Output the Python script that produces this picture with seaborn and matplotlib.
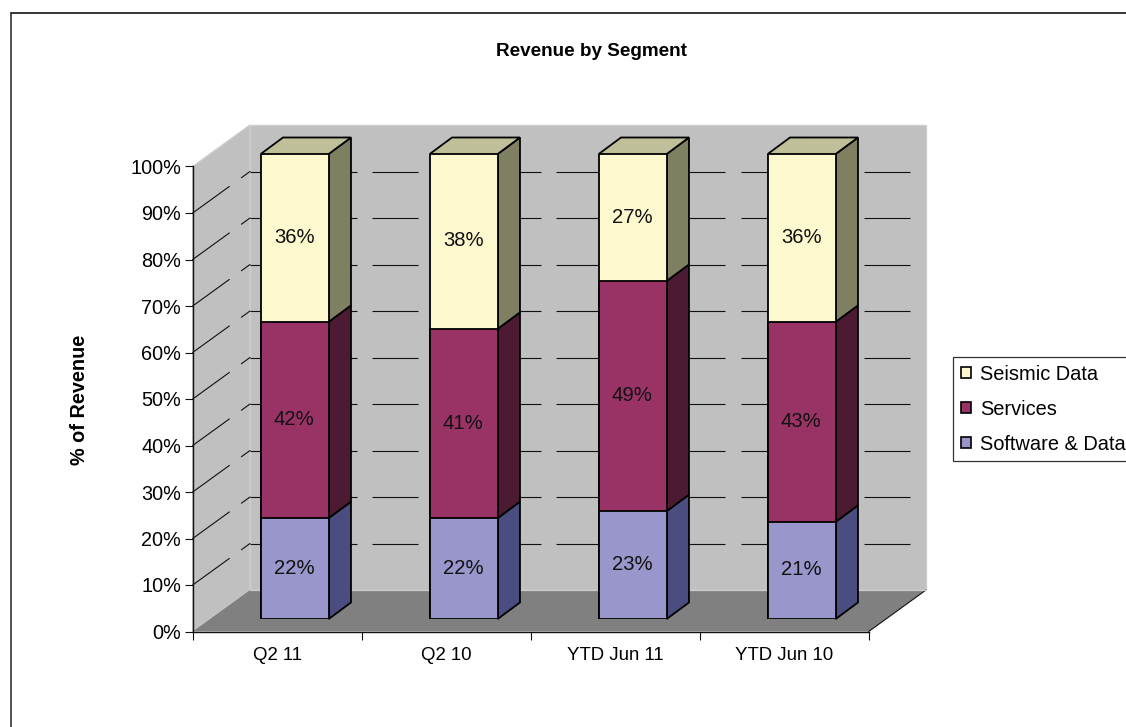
import numpy as np
import pandas as pd
import matplotlib
matplotlib.use("Agg")
import matplotlib.pyplot as plt
from matplotlib.patches import Patch, Polygon
import seaborn as sns

categories = ["Q2 11", "Q2 10", "YTD Jun 11", "YTD Jun 10"]
software = [21.7, 21.7, 23.2, 20.9]
services = [42.2, 40.7, 49.5, 43.0]
seismic = [36.1, 37.6, 27.3, 36.1]
software_labels = ["22%", "22%", "23%", "21%"]
services_labels = ["42%", "41%", "49%", "43%"]
seismic_labels = ["36%", "38%", "27%", "36%"]
y_ticks = [0, 10, 20, 30, 40, 50, 60, 70, 80, 90, 100]

W, H = 1126, 727
sns.set_theme(style="white")
plt.rcParams["font.family"] = ["Liberation Sans", "DejaVu Sans"]
FS_TICK, FS_CAT, FS_BAR, FS_LEG, FS_BOLD = 14.3, 13.4, 14.6, 14.4, 13.6
INK = "#111111"

fig = plt.figure(figsize=(W / 100, H / 100), dpi=100, facecolor="white")


def px_axes(x0, y_top, x1, y_bot, **kw):
    return fig.add_axes([x0 / W, 1 - y_bot / H, (x1 - x0) / W, (y_bot - y_top) / H], **kw)


# pixel canvas for the chart furniture
bg = px_axes(0, 0, W, H, zorder=0)
bg.set_xlim(0, W)
bg.set_ylim(H, 0)
bg.axis("off")

FX0, FX1, FY0, FY1 = 192.7, 868.7, 631.5, 166.5   # front plane
DX, DY = 57.3, -41.5                               # wall depth
WALL, FLOOR, EDGE = "#C0C0C0", "#808080", "#CDCDCD"

bg.add_patch(Polygon([(FX0 + DX, FY1 + DY), (FX1 + DX, FY1 + DY), (FX1 + DX, FY0 + DY), (FX0 + DX, FY0 + DY)],
                     fc=WALL, ec=EDGE, lw=1))
bg.add_patch(Polygon([(FX0, FY1), (FX0 + DX, FY1 + DY), (FX0 + DX, FY0 + DY), (FX0, FY0)],
                     fc=WALL, ec=EDGE, lw=1))
bg.add_patch(Polygon([(FX0, FY0), (FX1, FY0), (FX1 + DX, FY0 + DY), (FX0 + DX, FY0 + DY)],
                     fc=FLOOR, ec="none"))
bg.plot([FX1, FX1 + DX], [FY0, FY0 + DY], color=INK, lw=0.8)
bg.plot([FX0 + DX, FX1 + DX], [FY0 + DY, FY0 + DY], color=EDGE, lw=0.9)

# gridlines: back wall and side wall, with the gaps of the source rendering
back_spans = [(250, 357), (372, 418), (430, 541), (556, 725), (741, 857), (864, 910)]
for t in y_ticks[1:-1]:
    yf = FY0 + (FY1 - FY0) * t / 100
    for a, b in back_spans:
        bg.plot([a, b], [yf + DY, yf + DY], color=INK, lw=0.8, solid_capstyle="butt")
    for f0, f1 in [(0, 0.64), (0.85, 1.0)]:
        bg.plot([FX0 + DX * f0, FX0 + DX * f1], [yf + DY * f0, yf + DY * f1], color=INK, lw=0.8)

# chart frame: only the top and left edges show
bg.plot([10.5, W], [12.5, 12.5], color="black", lw=1.1)
bg.plot([10.5, 10.5], [12.5, H], color="#222222", lw=1.1)

# front axis carrying ticks and labels
axf = px_axes(FX0, FY1, FX1, FY0, zorder=1)
axf.patch.set_alpha(0)
axf.set_xlim(-0.5, 3.5)
axf.set_ylim(0, 100)
axf.set_yticks(y_ticks)
axf.set_yticklabels([f"{t}%" for t in y_ticks], fontsize=FS_TICK, color="black")
axf.set_xticks(np.arange(-0.5, 4, 1))
axf.set_xticklabels([])
axf.set_xticks(range(4), categories, minor=True, fontsize=FS_CAT, color="black")
axf.tick_params(axis="y", length=6, width=0.8, color=INK, pad=2.5, left=True)
axf.tick_params(axis="x", which="major", length=6, width=0.8, color=INK, bottom=True)
axf.tick_params(axis="x", which="minor", length=0, pad=11)
for s in ["top", "right"]:
    axf.spines[s].set_visible(False)
for s in ["left", "bottom"]:
    axf.spines[s].set_color(INK)
    axf.spines[s].set_linewidth(1.0)
axf.set_ylabel("% of Revenue", fontsize=14.3, fontweight="bold", color="black", labelpad=0)
axf.yaxis.set_label_coords((89 - FX0) / (FX1 - FX0), (FY0 - 400) / (FY0 - FY1))
fig.text(591.5 / W, 1 - 52 / H, "Revenue by Segment", fontsize=FS_BOLD, fontweight="bold", color="black",
         ha="center", va="center")

# bars axis: plane through the front faces of the bars
ax = px_axes(210.2, 154, 886.2, 619, zorder=2)
ax.patch.set_alpha(0)

frame = pd.DataFrame({"category": categories, "software": software, "services": services, "seismic": seismic})
frame["c1"] = frame["software"]
frame["c2"] = frame["c1"] + frame["services"]
frame["c3"] = frame["c2"] + frame["seismic"]

BAR_W = 0.402
LW = 1.3
C_SEIS, C_SERV, C_SOFT = "#FDF9CE", "#993366", "#9896CB"
S_SEIS, S_SERV, S_SOFT = "#7F7F61", "#4D1A33", "#4B4C7F"
T_SEIS = "#BFBF99"

for col, c in [("c3", C_SEIS), ("c2", C_SERV), ("c1", C_SOFT)]:
    sns.barplot(data=frame, x="category", y=col, order=categories, color=c, saturation=1,
                width=BAR_W, edgecolor="black", linewidth=LW, ax=ax, zorder=4)
ax.set_xlim(-0.5, 3.5)
ax.set_ylim(0, 100)
ax.axis("off")

dxd = 22.3 / 169
dyd = 16.5 / 4.65
for i in range(len(categories)):
    r = i + BAR_W / 2
    l = i - BAR_W / 2
    c1, c2, c3 = frame.loc[i, ["c1", "c2", "c3"]]
    for lo, hi, col in [(0, c1, S_SOFT), (c1, c2, S_SERV), (c2, c3, S_SEIS)]:
        ax.add_patch(Polygon([(r, lo), (r + dxd, lo + dyd), (r + dxd, hi + dyd), (r, hi)],
                             fc=col, ec="black", lw=LW, clip_on=False, zorder=3))
    ax.add_patch(Polygon([(l, c3), (l + dxd, c3 + dyd), (r + dxd, c3 + dyd), (r, c3)],
                         fc=T_SEIS, ec="black", lw=LW, clip_on=False, zorder=3))
    for lo, hi, txt in [(0, c1, software_labels[i]), (c1, c2, services_labels[i]), (c2, c3, seismic_labels[i])]:
        ax.text(i - 0.003, (lo + hi) / 2 + 0.1, txt, ha="center", va="center", fontsize=FS_BAR,
                color="#111111", zorder=6)

handles = [Patch(fc=C_SEIS, ec="black", lw=1.2, label="Seismic Data"),
           Patch(fc=C_SERV, ec="black", lw=1.2, label="Services"),
           Patch(fc=C_SOFT, ec="black", lw=1.2, label="Software & Data")]
leg = fig.legend(handles=handles, loc="upper left", bbox_to_anchor=(953 / W, 1 - 357 / H), borderaxespad=0,
                 frameon=True, fancybox=False, edgecolor="#333333", framealpha=1, fontsize=FS_LEG,
                 labelcolor="black", handlelength=0.52, handleheight=0.52, handletextpad=0.46,
                 labelspacing=0.80, borderpad=0.38)
leg.get_frame().set_linewidth(0.9)

fig.savefig("out.png", dpi=100)
